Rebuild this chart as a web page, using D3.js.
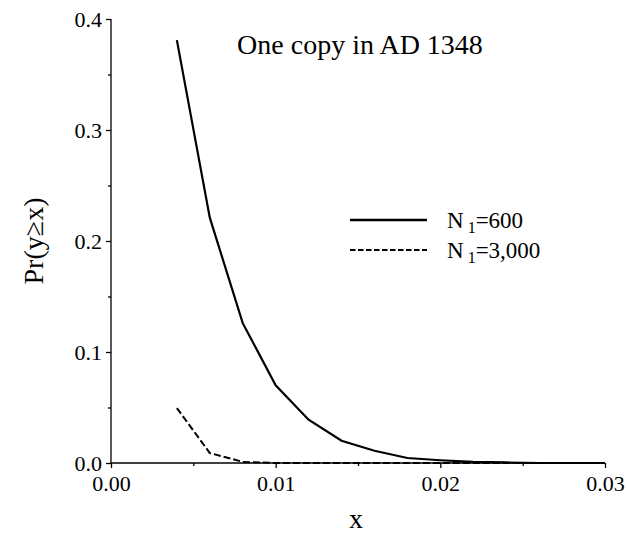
<!DOCTYPE html>
<html><head><meta charset="utf-8">
<script src="https://cdn.jsdelivr.net/npm/d3@7"></script>
</head><body style="margin:0;background:#fff"><svg id="c" width="627" height="542" font-family="Liberation Serif"></svg>
<script>
const xValues = [0.004,0.006,0.008,0.010,0.012,0.014,0.016,0.018,0.020,0.022,0.024,0.026,0.028,0.030];
const seriesN600 = [0.381,0.221,0.126,0.070,0.039,0.020,0.011,0.0045,0.0025,0.001,0.0005,0,0,0];
const seriesN3000 = [0.0495,0.009,0.001,0,0,0,0,0,0,0,0,0,0,0];
const xTicks = [0,0.01,0.02,0.03];
const yTicks = [0,0.1,0.2,0.3,0.4];
const seriesNames = ["600","3,000"];

const svg = d3.select("#c");
const x = d3.scaleLinear().domain([0,0.03]).range([111,605]);
const y = d3.scaleLinear().domain([0,0.4]).range([463,19]);

// y axis
const ya = svg.append("g").attr("transform","translate(111,0)")
  .call(d3.axisLeft(y).tickValues(d3.range(0,0.401,0.05)).tickSize(5).tickFormat(d=>{const r=Math.round(d*100); return r%10===0? d3.format(".1f")(d):"";}));
ya.attr("font-family", null).attr("font-size", 22);
ya.selectAll("text").attr("x",-9).attr("dy","0.34em");
ya.selectAll(".tick line").attr("x2",d=>Math.round(d*100)%10===0?-5:-3);
ya.select(".domain").attr("d","M0,19V463");
// x axis
const xa = svg.append("g").attr("transform","translate(0,463)")
  .call(d3.axisBottom(x).tickValues(d3.range(0,0.0301,0.005)).tickSize(5).tickFormat(d=>{const r=Math.round(d*1000); return r%10===0? d3.format(".2f")(d):"";}));
xa.attr("font-family", null).attr("font-size", 22);
xa.selectAll("text").attr("y",12);
xa.selectAll(".tick line").attr("y2",d=>Math.round(d*1000)%10===0?5:3);
xa.select(".domain").attr("d","M111,0H605");
svg.selectAll(".domain,.tick line").attr("stroke","#000").attr("stroke-width",1.3);

const line = d3.line().x((d,i)=>x(xValues[i])).y(d=>y(d));
svg.append("path").datum(seriesN600).attr("d",line).attr("fill","none").attr("stroke","#000").attr("stroke-width",2.2);
svg.append("path").datum(seriesN3000).attr("d",line).attr("fill","none").attr("stroke","#000").attr("stroke-width",2).attr("stroke-dasharray","7,3");

svg.append("text").attr("x",360).attr("y",54).attr("text-anchor","middle").attr("font-size",28).text("One copy in AD 1348");
svg.append("text").attr("x",356).attr("y",528).attr("text-anchor","middle").attr("font-size",28).text("x");
svg.append("text").attr("transform","translate(43,241) rotate(-90)").attr("text-anchor","middle").attr("font-size",28).text("Pr(y≥x)");

// legend
const leg = svg.append("g");
seriesNames.forEach((n,i)=>{
  const yy = 220 + i*30;
  leg.append("line").attr("x1",350).attr("x2",427).attr("y1",yy).attr("y2",yy).attr("stroke","#000").attr("stroke-width",i?1.8:2.4).attr("stroke-dasharray",i?"5.5,2.5":null);
  const t = leg.append("text").attr("x",447).attr("y",yy+8).attr("font-size",23);
  t.append("tspan").text("N");
  t.append("tspan").attr("dy",5).attr("font-size",16).text(" 1");
  t.append("tspan").attr("dy",-5).text("="+n);
});
</script></body></html>
